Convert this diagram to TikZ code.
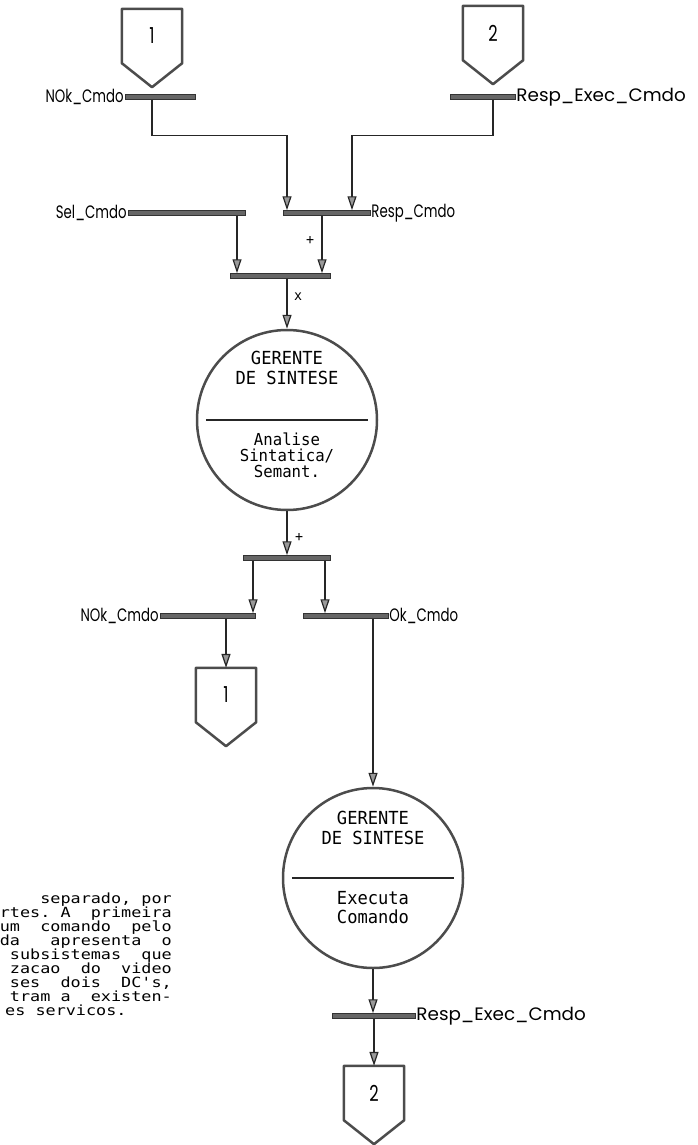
\documentclass[tikz,border=0pt]{standalone}
\usepackage{fontspec}
\setmainfont{Poppins}
\newfontfamily\labelfont[FakeStretch=0.74]{Poppins}
\newfontfamily\widelabelfont[FakeStretch=1.02]{Poppins}
\newfontfamily\dotfont[FakeStretch=0.95]{DejaVu Sans Mono}
\newfontfamily\parafont[FakeStretch=1.2]{DejaVu Sans Mono}
\usetikzlibrary{arrows.meta,calc}

% off-page connector: name, x, top y, label
\newcommand\offpage[4]{%
  \node[offbox] (#1) at (#2,#3+27) {#4};
  \draw[offline] (#1.north west) -- (#1.north east) -- (#1.south east)
     -- ([yshift=-24pt]#1.south) -- (#1.south west) -- cycle;}
% data store bar: name, left x, right x, y
\newcommand\datastore[4]{%
  \node[store, minimum width={#3-#2}] (#1) at ({(#2+#3)/2},#4) {};}

\begin{document}
\begin{tikzpicture}[x=1pt,y=-1pt,
  flow/.style={draw=black!85, line width=1.2pt,
    -{Triangle[length=14pt,width=9pt,fill=black!40]}},
  line/.style={draw=black!85, line width=1.2pt},
  store/.style={rectangle, draw=black!80, fill=black!60, line width=0.5pt,
    minimum height=5pt, inner sep=0pt},
  proc/.style={circle, draw=black!70, line width=2.5pt, minimum size=180pt,
    inner sep=0pt},
  offbox/.style={rectangle, minimum width=60pt, minimum height=54pt,
    inner sep=0pt, font=\labelfont\fontsize{22}{24}\selectfont},
  offline/.style={draw=black!70, line width=2.5pt, line join=round},
  lbl/.style={font=\labelfont\fontsize{18}{20}\selectfont, inner sep=1pt},
  widelbl/.style={font=\widelabelfont\fontsize{18}{20}\selectfont, inner sep=1pt},
  tag/.style={font=\dotfont\fontsize{14}{14}\selectfont, inner sep=0pt},
  dotty/.style={font=\dotfont\fontsize{18}{20}\selectfont, align=center,
    inner sep=0pt},
  para/.style={font=\parafont\fontsize{14}{14}\selectfont, inner sep=0pt,
    anchor=base east},
]
\useasboundingbox (0,0) rectangle (698,1145);

% ---- incoming off-page connectors
\offpage{c1top}{152}{9}{1}
\offpage{c2top}{493}{6}{2}

% ---- data stores
\datastore{b1}{125}{195}{97}
\datastore{b2}{450}{515}{97}
\datastore{bsel}{128}{245}{213}
\datastore{bresp}{283}{370}{213}
\datastore{bmerge}{230}{330}{276}
\datastore{bsplit}{243}{330}{558}
\datastore{bnok}{160}{255}{616}
\datastore{bok}{303}{388}{616}
\datastore{bexec}{332}{415}{1016}

\node[lbl, anchor=east] (lb1) at (b1.west) {NOk\_Cmdo};
\node[widelbl, anchor=west] (lb2) at (b2.east) {Resp\_Exec\_Cmdo};
\node[lbl, anchor=east] (lsel) at (bsel.west) {Sel\_Cmdo};
\node[lbl, anchor=west] (lresp) at (bresp.east) {Resp\_Cmdo};
\node[lbl, anchor=east] (lnok) at (bnok.west) {NOk\_Cmdo};
\node[lbl, anchor=west] (lok) at (bok.east) {Ok\_Cmdo};
\node[widelbl, anchor=west] (lexec) at (bexec.east) {Resp\_Exec\_Cmdo};

% ---- processes
\node[proc] (p1) at (287,420) {};
\node[dotty] (p1a) at ([yshift=52pt]p1.center) {GERENTE\\DE SINTESE};
\draw[line, line width=1.3pt] ([xshift=10pt]p1.west) -- ([xshift=-10pt]p1.east);
\node[dotty, font=\dotfont\fontsize{16.5}{16}\selectfont] (p1b)
  at ([yshift=-35pt]p1.center) {Analise\\Sintatica/\\Semant.};

\node[proc] (p2) at (373,878) {};
\node[dotty] (p2a) at ([yshift=50.5pt]p2.center) {GERENTE\\DE SINTESE};
\draw[line, line width=1.3pt] ([xshift=10pt]p2.west) -- ([xshift=-10pt]p2.east);
\node[dotty, font=\dotfont\fontsize{18}{19}\selectfont] (p2b)
  at ([yshift=-29.5pt]p2.center) {Executa\\Comando};

% ---- outgoing off-page connectors
\offpage{c1bot}{226}{668}{1}
\offpage{c2bot}{374}{1066}{2}

% ---- flows
\draw[flow] (b1.south -| c1top.south) -- ++(0,36) -| ([xshift=-39.5pt]bresp.north);
\draw[flow] (b2.south -| c2top.south) -- ++(0,36) -| ([xshift=25.5pt]bresp.north);

\coordinate (s1) at ([xshift=50.5pt]bsel.south);
\draw[flow] (s1) -- (s1 |- bmerge.north);
\coordinate (s2) at ([xshift=-4.5pt]bresp.south);
\draw[flow] (s2) -- (s2 |- bmerge.north);
\node[tag] (tplus1) at (310,240) {+};

\draw[flow] (bmerge.south -| p1.north) -- (p1.north);
\node[tag] (tx) at (298,297) {x};

\draw[flow] (p1.south) -- (p1.south |- bsplit.north);
\node[tag] (tplus2) at (299,537) {+};

\coordinate (s3) at ([xshift=-33.5pt]bsplit.south);
\draw[flow] (s3) -- (s3 |- bnok.north);
\coordinate (s4) at ([xshift=38.5pt]bsplit.south);
\draw[flow] (s4) -- (s4 |- bok.north);

\draw[flow] (bnok.south -| c1bot.north) -- (c1bot.north);
\draw[flow] (bok.south -| p2.north) -- (p2.north);
\draw[flow] (p2.south) -- (p2.south |- bexec.north);
\draw[flow] (bexec.south -| c2bot.north) -- (c2bot.north);

% ---- running text at the lower left
\node[para] (t1) at (172,903) {separado, por};
\node[para] (t2) at (172,917) {rtes.~A~~primeira};
\node[para] (t3) at (172,931) {um~~comando~~pelo};
\node[para] (t4) at (172,945) {da~~~apresenta~~o};
\node[para] (t5) at (172,959) {subsistemas~~que};
\node[para] (t6) at (172,973) {zacao~~do~~video};
\node[para] (t7) at (172,987) {ses~~dois~~DC's,};
\node[para] (t8) at (172,1001) {tram~a~~existen-};
\node[para, anchor=base west] (t9) at (5,1015) {es servicos.};
\end{tikzpicture}
\end{document}
